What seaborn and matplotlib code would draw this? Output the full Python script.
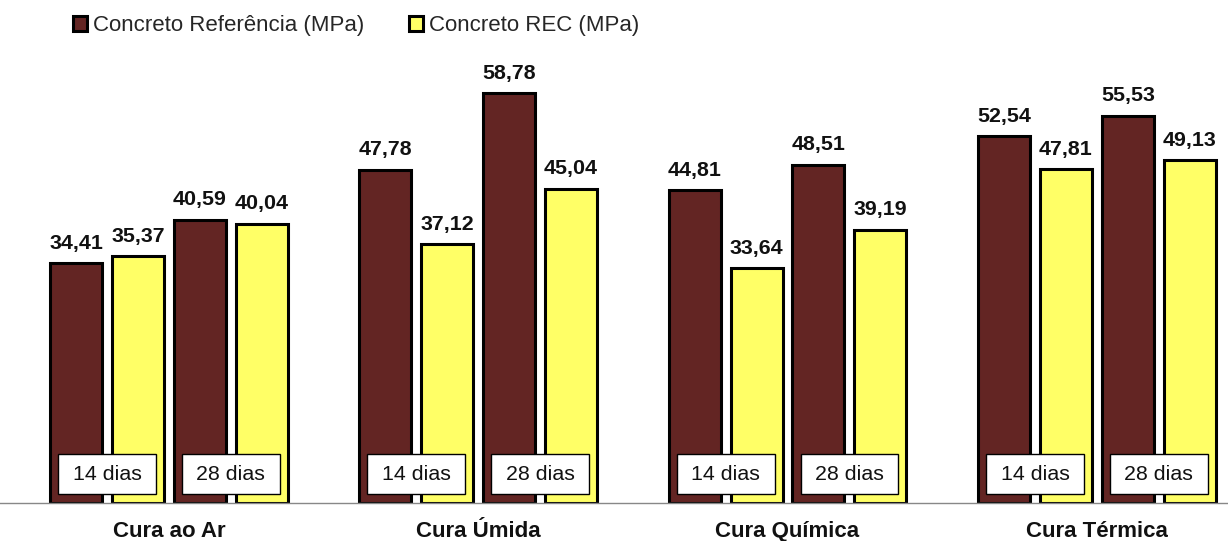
import seaborn as sns
import pandas as pd
import matplotlib.pyplot as plt
from matplotlib.patches import Rectangle

curas = ["Cura ao Ar", "Cura Úmida", "Cura Química", "Cura Térmica"]
idades = ["14 dias", "28 dias"]
series = ["Concreto Referência (MPa)", "Concreto REC (MPa)"]

ref_14 = [34.41, 47.78, 44.81, 52.54]
rec_14 = [35.37, 37.12, 33.64, 47.81]
ref_28 = [40.59, 58.78, 48.51, 55.53]
rec_28 = [40.04, 45.04, 39.19, 49.13]

cores = ["#632523", "#FFFF66"]

valores = {
    ("14 dias", series[0]): ref_14,
    ("14 dias", series[1]): rec_14,
    ("28 dias", series[0]): ref_28,
    ("28 dias", series[1]): rec_28,
}

# each group: 4 bar slots + 1 empty slot
linhas = []
for g, cura in enumerate(curas):
    for a, idade in enumerate(idades):
        for s, serie in enumerate(series):
            linhas.append({"cura": cura, "idade": idade, "serie": serie,
                           "pos": g * 5 + a * 2 + s,
                           "valor": valores[(idade, serie)][g]})
df = pd.DataFrame(linhas)

sns.set_style("white")
plt.rcParams["font.family"] = ["Liberation Sans", "DejaVu Sans"]

fig = plt.figure(figsize=(12.28, 5.41), dpi=100)
ax = fig.add_axes([0, 38 / 541, 1, (503 - 60) / 541])

sns.barplot(data=df, x="pos", y="valor", hue="serie", hue_order=series,
            native_scale=True, dodge=False, width=0.84, palette=cores, saturation=1,
            edgecolor="black", linewidth=2.2, errorbar=None, ax=ax)

ax.set_xlim(-1.23, 18.62)
ax.set_ylim(0, 63.5)

# value labels
for _, r in df.iterrows():
    ax.annotate(f"{r['valor']:.2f}".replace(".", ","), xy=(r["pos"], r["valor"]),
                xytext=(0, 7.5), textcoords="offset points", ha="center", va="bottom",
                fontsize=15.4, fontweight="bold", color="#111111")

# age boxes
for g in range(len(curas)):
    for a, idade in enumerate(idades):
        mid = g * 5 + a * 2 + 0.5
        ax.add_patch(Rectangle((mid - 0.79, 1.3), 1.58, 5.7, facecolor="white",
                               edgecolor="black", linewidth=1, zorder=3))
        ax.text(mid, 1.3 + 2.85, idade, ha="center", va="center", fontsize=15.4,
                color="#111111", zorder=4)

ax.set_xticks([g * 5 + 1.5 for g in range(len(curas))])
ax.set_xticklabels(curas, fontsize=16, fontweight="bold", color="#111111")
ax.tick_params(axis="x", length=0, pad=13)
ax.set_yticks([])
ax.set_xlabel("")
ax.set_ylabel("")
for side in ["top", "left", "right"]:
    ax.spines[side].set_visible(False)
ax.spines["bottom"].set_color("#888888")
ax.spines["bottom"].set_linewidth(1)

handles, labels = ax.get_legend_handles_labels()
ax.get_legend().remove()
fig.legend(handles, labels, loc="upper left", bbox_to_anchor=(73 / 1228, 1 - 15 / 541),
           ncol=2, frameon=False, fontsize=16, handlelength=0.65, handleheight=0.65,
           handletextpad=0.25, columnspacing=2.0, borderpad=0, borderaxespad=0)

fig.savefig("out.png", dpi=100)
